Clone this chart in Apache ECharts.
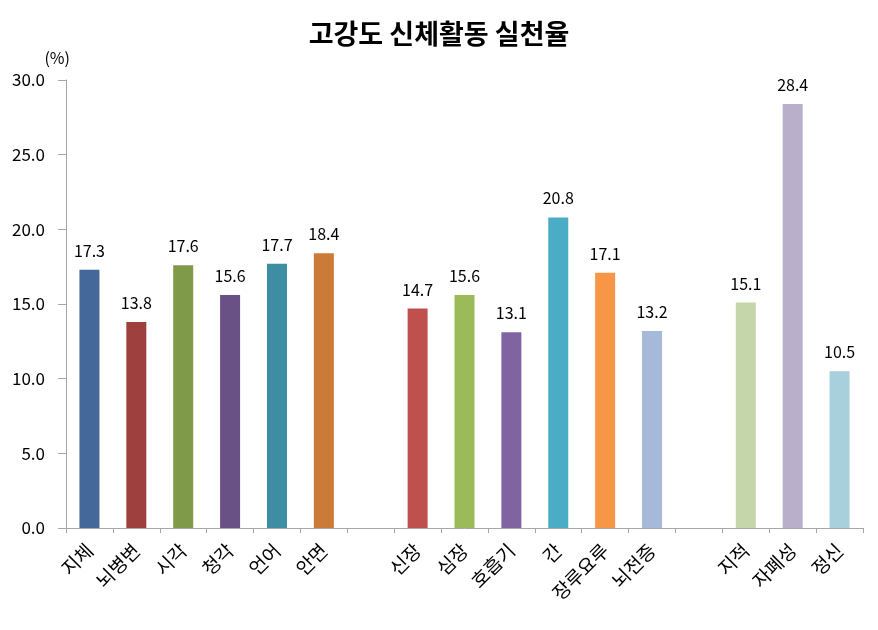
<!DOCTYPE html>
<html><head><meta charset="utf-8">
<script src="https://cdn.jsdelivr.net/npm/echarts@6/dist/echarts.min.js"></script>
<style>html,body{margin:0;padding:0;background:#fff}#c{width:878px;height:630px}</style>
</head><body><div id="c"></div>
<script>
const categories = ['지체','뇌병변','시각','청각','언어','안면','','신장','심장','호흡기','간','장루요루','뇌전증','','지적','자폐성','정신'];
const values = [17.3,13.8,17.6,15.6,17.7,18.4,null,14.7,15.6,13.1,20.8,17.1,13.2,null,15.1,28.4,10.5];
const colors = ['#44689a','#9e413e','#7f9a48','#695185','#3d8ea2','#cb7b37',null,'#c0504d','#9bbb59','#8064a2','#4bacc6','#f79646','#a7b9d8',null,'#c6d6ab','#b9afcb','#a8cfdc'];
const yTicks = [0,5,10,15,20,25,30];
const font = '"Noto Sans CJK KR","Noto Sans",sans-serif';
const chart = echarts.init(document.getElementById('c'));
chart.setOption({
  animation:false,
  title:{text:'고강도 신체활동 실천율',left:'center',top:15,textStyle:{fontFamily:font,fontSize:27,fontWeight:'bold',color:'#000'}},
  grid:{left:66,right:15,top:80,bottom:102},
  xAxis:{type:'category',data:categories,boundaryGap:true,
    axisLine:{lineStyle:{color:'#a6a6a6'}},
    axisTick:{show:true,length:5,alignWithLabel:false,interval:0,lineStyle:{color:'#a6a6a6'}},
    axisLabel:{interval:0,rotate:45,fontFamily:font,fontSize:19,color:'#000',margin:19}},
  yAxis:{type:'value',min:yTicks[0],max:yTicks[yTicks.length-1],interval:5,
    name:'(%)',nameLocation:'end',nameGap:14,nameTextStyle:{fontFamily:font,fontSize:16,color:'#000',align:'right',padding:[0,-4,0,0]},
    axisLine:{show:true,lineStyle:{color:'#a6a6a6'}},
    axisTick:{show:true,length:8,inside:false,lineStyle:{color:'#a6a6a6'}},
    splitLine:{show:false},
    axisLabel:{fontFamily:font,fontSize:17,color:'#000',margin:21,formatter:v=>v.toFixed(1)}},
  series:[{type:'bar',barWidth:20,
    data:values.map((v,i)=>v==null?'-':{value:v,itemStyle:{color:colors[i]}}),
    label:{show:true,position:'top',distance:11,fontFamily:font,fontSize:16,color:'#000',formatter:p=>p.value.toFixed(1)}}]
});
</script></body></html>
